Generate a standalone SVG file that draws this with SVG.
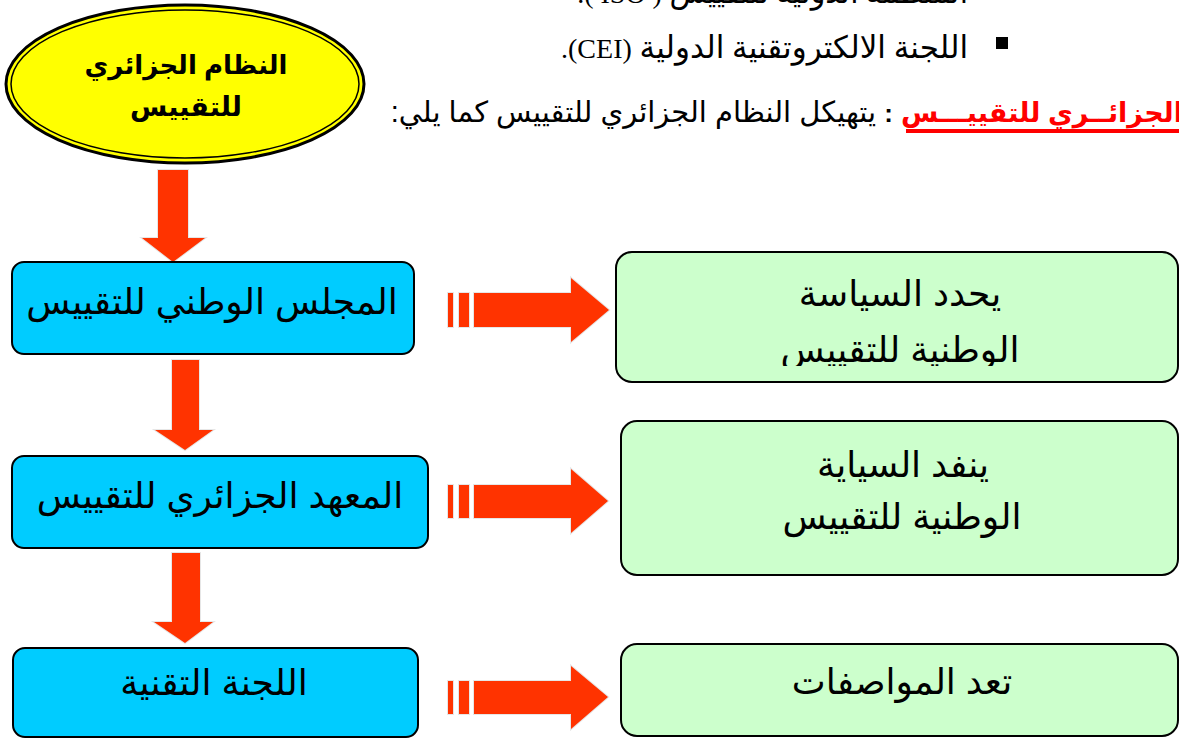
<svg xmlns="http://www.w3.org/2000/svg" width="1179" height="738" viewBox="0 0 1179 738">
<style>
  .ar { font-family: 'Liberation Sans', 'DejaVu Sans', sans-serif; fill: #000; }
  .ser { font-family: 'Liberation Serif', 'DejaVu Sans', serif; fill: #000; }
  .blue { fill: #00ccff; stroke: #000; stroke-width: 2; }
  .green { fill: #ccffcc; stroke: #000; stroke-width: 2; }
  .arrow { fill: #ff3300; stroke: #e6e6e6; stroke-width: 2; paint-order: stroke; }
  .big { font-size: 36px; }
</style>
<defs>
  <clipPath id="clipG1"><rect x="600" y="240" width="600" height="126"/></clipPath>
</defs>
<rect width="1179" height="738" fill="#fff"/>

<g id="heading-text">
  <text class="ser" x="968" y="3" font-size="30" direction="rtl" text-anchor="start">المنظمة الدولية للتقييس <tspan font-size="28">( ISO ).</tspan></text>
  <rect x="996" y="37" width="12" height="12" fill="#000"/>
  <text class="ser" x="968" y="58" font-size="31" direction="rtl" text-anchor="start">اللجنة الالكتروتقنية الدولية <tspan font-size="28">(CEI).</tspan></text>
  <text class="ar" x="1183" y="122" font-size="29" direction="rtl" text-anchor="start"><tspan fill="#ff0000" font-weight="bold" font-size="27">الجزائــري للتقييـــس</tspan> <tspan font-weight="bold" font-size="26">:</tspan>  يتهيكل النظام الجزائري للتقييس كما يلي:</text>
  <rect x="906" y="129" width="274" height="4" fill="#ff0000"/>
</g>

<g id="connectors">
  <polygon class="arrow" points="158,170 188,170 188,238 205,238 173,262 142,238 158,238"/>
  <polygon class="arrow" points="172,360 199,360 199,430 213,430 185,450 155,430 172,430"/>
  <polygon class="arrow" points="172,553 200,553 200,622 213,622 185,643 154,622 172,622"/>
  <g>
    <rect class="arrow" x="448" y="293" width="5" height="34"/>
    <rect class="arrow" x="459" y="293" width="10" height="34"/>
    <polygon class="arrow" points="474,293 571,293 571,278 609,310 571,342 571,327 474,327"/>
  </g>
  <g>
    <rect class="arrow" x="448" y="485" width="5" height="33"/>
    <rect class="arrow" x="459" y="485" width="10" height="33"/>
    <polygon class="arrow" points="474,485 571,485 571,469 608,501 571,533 571,518 474,518"/>
  </g>
  <g>
    <rect class="arrow" x="448" y="681" width="5" height="33"/>
    <rect class="arrow" x="459" y="681" width="10" height="33"/>
    <polygon class="arrow" points="474,681 571,681 571,666 608,697 571,729 571,714 474,714"/>
  </g>
</g>

<g id="node-root">
  <ellipse cx="185" cy="84" rx="179" ry="79" fill="#ffff00" stroke="#000" stroke-width="3"/>
  <ellipse cx="185" cy="84" rx="174" ry="74" fill="none" stroke="#000" stroke-width="1.5"/>
  <text class="ar" x="186" y="74" font-size="26" font-weight="bold" direction="rtl" text-anchor="middle">النظام الجزائري</text>
  <text class="ar" x="186" y="116" font-size="27" font-weight="bold" direction="rtl" text-anchor="middle">للتقييس</text>
</g>

<g id="node-council">
  <rect class="blue" x="12" y="262" width="402" height="92" rx="12"/>
  <text class="ar big" x="212" y="314" direction="rtl" text-anchor="middle">المجلس الوطني للتقييس</text>
</g>
<g id="node-institute">
  <rect class="blue" x="12" y="456" width="416" height="92" rx="12"/>
  <text class="ar big" x="220" y="508" direction="rtl" text-anchor="middle">المعهد الجزائري للتقييس</text>
</g>
<g id="node-committee">
  <rect class="blue" x="13" y="648" width="405" height="89" rx="12"/>
  <text class="ar big" x="214" y="695" direction="rtl" text-anchor="middle">اللجنة التقنية</text>
</g>

<g id="node-policy">
  <rect class="green" x="616" y="252" width="562" height="130" rx="16"/>
  <g clip-path="url(#clipG1)">
    <text class="ar big" x="900" y="306" direction="rtl" text-anchor="middle">يحدد السياسة</text>
    <text class="ar big" x="900" y="362" direction="rtl" text-anchor="middle">الوطنية للتقييس</text>
  </g>
</g>
<g id="node-execute">
  <rect class="green" x="621" y="421" width="557" height="154" rx="16"/>
  <text class="ar big" x="903" y="477" direction="rtl" text-anchor="middle">ينفد السياية</text>
  <text class="ar big" x="902" y="529" direction="rtl" text-anchor="middle">الوطنية للتقييس</text>
</g>
<g id="node-specs">
  <rect class="green" x="621" y="644" width="557" height="92" rx="16"/>
  <text class="ar big" x="902" y="694" direction="rtl" text-anchor="middle">تعد المواصفات</text>
</g>
</svg>
